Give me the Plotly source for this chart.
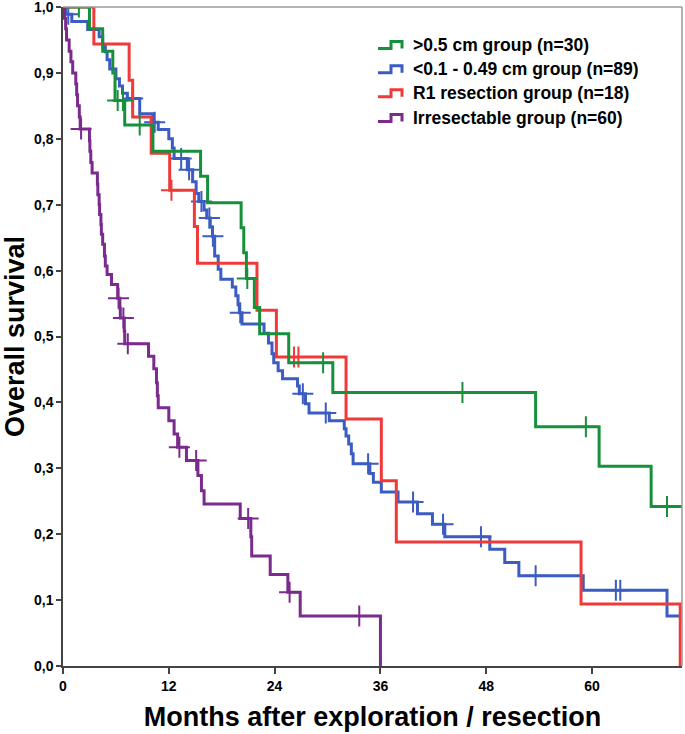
import plotly.graph_objects as go

# ---------------- data ----------------
x_ticks = [0, 12, 24, 36, 48, 60]
y_ticks = [0.0, 0.1, 0.2, 0.3, 0.4, 0.5, 0.6, 0.7, 0.8, 0.9, 1.0]
y_tick_text = ["0,0", "0,1", "0,2", "0,3", "0,4", "0,5", "0,6", "0,7", "0,8", "0,9", "1,0"]

group_names = [">0.5 cm group (n=30)", "<0.1 - 0.49 cm group (n=89)",
               "R1 resection group (n=18)", "Irresectable group (n=60)"]

# >0.5 cm group
green_t = [0, 3.0, 4.5, 5.65, 5.9, 7.0, 10.2, 15.6, 16.4, 20.2, 20.5, 20.8,
           21.7, 22.3, 25.6, 30.6, 53.6, 60.8, 66.7]
green_s = [1.0, 0.967, 0.933, 0.900, 0.858, 0.821, 0.781, 0.743, 0.703, 0.665,
           0.627, 0.588, 0.544, 0.504, 0.460, 0.415, 0.363, 0.303, 0.242]
green_c = [1.8, 6.2, 6.8, 8.7, 20.9, 29.5, 45.3, 59.3, 68.5]

# <0.1 - 0.49 cm group
blue_t = [0, 0.3, 1.0, 2.8, 4.1, 4.5, 4.8, 5.0, 5.3, 6.0, 6.4, 6.75, 7.3, 8.7,
          10.2, 10.8, 12.0, 12.4, 12.6, 14.1, 14.7, 15.1, 15.4, 16.0, 16.3,
          16.7, 16.95, 17.2, 17.6, 17.9, 19.2, 19.6, 19.85, 20.0, 20.3, 22.8,
          23.3, 23.7, 23.9, 24.4, 24.9, 26.6, 26.8, 27.5, 27.9, 30.2, 31.9,
          32.1, 32.4, 32.7, 32.9, 34.8, 35.2, 36.1, 38.0, 40.2, 41.9, 43.3,
          48.4, 50.1, 51.7, 59.0, 68.5]
blue_s = [1.0, 0.989, 0.978, 0.966, 0.955, 0.943, 0.932, 0.920, 0.906, 0.891,
          0.880, 0.869, 0.861, 0.838, 0.825, 0.814, 0.800, 0.786, 0.770, 0.753,
          0.735, 0.717, 0.705, 0.692, 0.680, 0.666, 0.652, 0.622, 0.602, 0.587,
          0.575, 0.562, 0.548, 0.536, 0.519, 0.505, 0.490, 0.474, 0.460, 0.448,
          0.436, 0.425, 0.413, 0.398, 0.384, 0.372, 0.360, 0.349, 0.337, 0.322,
          0.307, 0.292, 0.279, 0.264, 0.249, 0.231, 0.215, 0.196, 0.177, 0.157,
          0.137, 0.115, 0.076]
blue_c = [0.6, 7.9, 10.4, 13.4, 14.3, 15.7, 16.6, 17.0, 20.1, 27.2, 29.8,
          34.6, 39.7, 43.1, 47.4, 53.6, 62.7, 63.2]

# R1 resection group
red_t = [0, 3.5, 7.5, 7.9, 10.0, 12.1, 14.9, 15.25, 22.0, 24.2, 32.1, 36.1,
         37.8, 58.75, 70.0]
red_s = [1.0, 0.944, 0.889, 0.833, 0.778, 0.722, 0.667, 0.611, 0.540, 0.469,
         0.375, 0.281, 0.188, 0.094, 0.0]
red_c = [12.3, 26.2, 26.7]

# Irresectable group
purple_t = [0, 0.17, 0.3, 0.4, 0.7, 0.9, 1.1, 1.45, 1.55, 1.65, 1.85, 1.95,
            3.0, 3.05, 3.15, 3.3, 3.9, 3.95, 4.1, 4.15, 4.3, 4.35, 4.5, 4.7,
            4.8, 5.0, 5.5, 6.2, 6.45, 6.5, 6.95, 7.0, 9.7, 10.3, 10.6, 10.7,
            10.8, 12.0, 12.6, 13.0, 14.0, 15.3, 15.7, 16.0, 20.1, 21.3, 21.4,
            23.5, 25.5, 26.9, 36.0]
purple_s = [1.0, 0.983, 0.967, 0.950, 0.933, 0.917, 0.900, 0.883, 0.867, 0.850,
            0.833, 0.815, 0.797, 0.781, 0.764, 0.748, 0.731, 0.715, 0.700,
            0.685, 0.670, 0.655, 0.640, 0.622, 0.607, 0.594, 0.579, 0.558,
            0.543, 0.528, 0.508, 0.489, 0.470, 0.451, 0.430, 0.410, 0.392,
            0.372, 0.352, 0.332, 0.312, 0.289, 0.266, 0.246, 0.224, 0.196,
            0.167, 0.139, 0.112, 0.076, 0.0]
purple_c = [2.05, 6.3, 6.85, 7.35, 13.2, 15.1, 21.0, 25.7, 33.6]

x_end = 70.2

# ---------------- styling ----------------
colors = {"green": "#17903c", "blue": "#3b5cc0", "red": "#f03a3a", "purple": "#7b2a8d"}
font_family = "Arial, 'Liberation Sans', sans-serif"


def surv_at(times, surv, t):
    val = surv[0]
    for ti, si in zip(times, surv):
        if ti <= t:
            val = si
    return val


series = [
    ("blue", group_names[1], blue_t, blue_s, blue_c),
    ("red", group_names[2], red_t, red_s, red_c),
    ("green", group_names[0], green_t, green_s, green_c),
    ("purple", group_names[3], purple_t, purple_s, purple_c),
]

fig = go.Figure()
for key, name, t, s, c in series:
    xs = list(t)
    ys = list(s)
    if xs[-1] < x_end and ys[-1] > 0:
        xs.append(x_end)
        ys.append(ys[-1])
    fig.add_trace(go.Scatter(
        x=xs, y=ys, mode="lines", name=name, showlegend=False,
        line=dict(color=colors[key], width=3, shape="hv"),
        hoverinfo="skip"))
    fig.add_trace(go.Scatter(
        x=c, y=[surv_at(t, s, ci) for ci in c], mode="markers",
        name=name + " censored", showlegend=False,
        marker=dict(symbol="cross-thin", size=15,
                    line=dict(color=colors[key], width=2)),
        hoverinfo="skip"))

# ---- manual legend with step-shaped icons (pixel layout -> paper coords) ----
L, R, T, B = 63, 682, 7, 666


def px2paper(px, py):
    return (px - L) / (R - L), (B - py) / (B - T)


legend_items = [("green", group_names[0]), ("blue", group_names[1]),
                ("red", group_names[2]), ("purple", group_names[3])]
row_centers = [45, 69.3, 93.2, 118]
shapes = []
annotations = []
for (key, name), yc in zip(legend_items, row_centers):
    pts = [(378, yc + 3.5), (391, yc + 3.5), (391, yc - 3.5),
           (402, yc - 3.5), (402, yc + 3.5)]
    pp = [px2paper(a, b) for a, b in pts]
    path = "M " + " L ".join(f"{a:.5f},{b:.5f}" for a, b in pp)
    shapes.append(dict(type="path", xref="paper", yref="paper", path=path,
                       line=dict(color=colors[key], width=3)))
    tx, ty = px2paper(411, yc)
    annotations.append(dict(x=tx, y=ty, xref="paper", yref="paper",
                            text="<b>" + name + "</b>", showarrow=False,
                            xanchor="left", yanchor="middle",
                            font=dict(family=font_family, size=17.5, color="black")))

# grey top and right frame lines
shapes.append(dict(type="line", xref="paper", yref="paper", x0=0, x1=1, y0=1, y1=1,
                   line=dict(color="#9a9a9a", width=1.5)))
shapes.append(dict(type="line", xref="paper", yref="paper", x0=1, x1=1, y0=0, y1=1,
                   line=dict(color="#9a9a9a", width=1.5)))

fig.update_layout(
    width=685, height=734,
    margin=dict(l=L, r=685 - R, t=T, b=734 - B),
    paper_bgcolor="white", plot_bgcolor="white",
    font=dict(family=font_family, color="black"),
    shapes=shapes, annotations=annotations,
    showlegend=False,
)
fig.update_xaxes(
    range=[0, x_end], tickvals=x_ticks, ticktext=[str(v) for v in x_ticks],
    showgrid=False, zeroline=False, showline=True, linecolor="#444", linewidth=1.5,
    ticks="outside", ticklen=6, tickcolor="#444", tickwidth=1.5,
    tickfont=dict(family=font_family, size=14, color="black", weight="bold"),
    ticklabeloverflow="allow",
    title=dict(text="<b>Months after exploration / resection</b>",
               font=dict(family=font_family, size=27, color="black"), standoff=15),
    automargin=False,
)
fig.update_yaxes(
    range=[0, 1], tickvals=y_ticks, ticktext=y_tick_text,
    showgrid=False, zeroline=False, showline=True, linecolor="#444", linewidth=1.5,
    ticks="outside", ticklen=5, tickcolor="#444", tickwidth=1.5,
    tickfont=dict(family=font_family, size=14, color="black", weight="bold"),
    ticklabeloverflow="allow",
    title=dict(text="<b>Overall survival</b>",
               font=dict(family=font_family, size=27, color="black"), standoff=6),
    automargin=False,
)

fig.write_html("out.html",
               config={"displayModeBar": False},
               post_script="document.body.style.margin='0px';"
                           "document.body.style.overflow='hidden';")
